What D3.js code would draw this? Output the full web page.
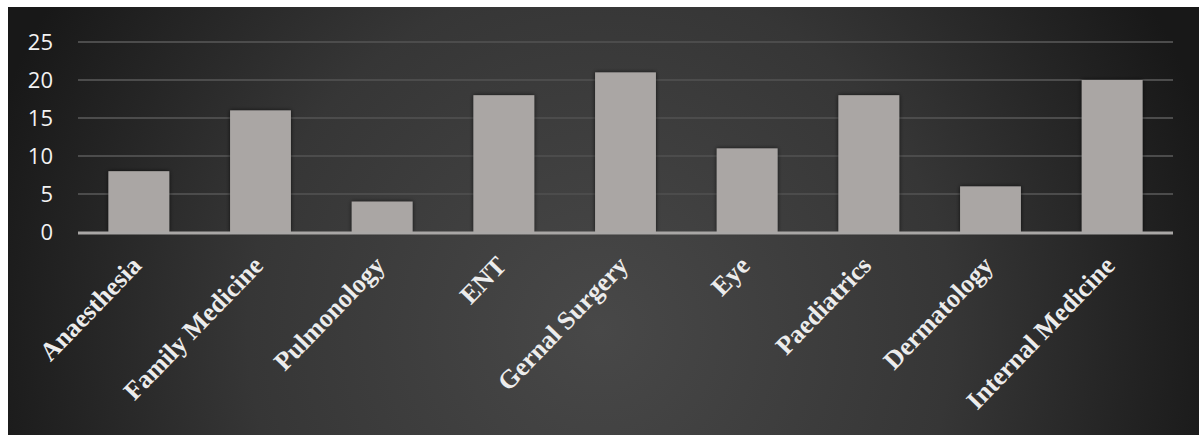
<!DOCTYPE html>
<html>
<head>
<meta charset="utf-8">
<script src="https://cdn.jsdelivr.net/npm/d3@7"></script>
<style>
  body { margin: 0; background: #fff; }
  svg { display: block; }
</style>
</head>
<body>
<svg id="chart"></svg>
<script>
const categories = ["Anaesthesia", "Family Medicine", "Pulmonology", "ENT", "Gernal Surgery",
                    "Eye", "Paediatrics", "Dermatology", "Internal Medicine"]
const counts = [8, 16, 4, 18, 21, 11, 18, 6, 20]
const yTicks = [0, 5, 10, 15, 20, 25]

const width = 1199, height = 435
const margin = {top: 42, right: 26, bottom: 203, left: 78}

const svg = d3.select("#chart").attr("width", width).attr("height", height)

const defs = svg.append("defs")
const bg = defs.append("radialGradient").attr("id", "bg")
    .attr("gradientUnits", "userSpaceOnUse")
    .attr("cx", 600).attr("cy", 330).attr("r", 640)
bg.append("stop").attr("offset", "0%").attr("stop-color", "#484848")
bg.append("stop").attr("offset", "55%").attr("stop-color", "#363636")
bg.append("stop").attr("offset", "100%").attr("stop-color", "#181818")

const shadow = defs.append("filter").attr("id", "shadow")
    .attr("x", "-20%").attr("y", "-20%").attr("width", "140%").attr("height", "140%")
shadow.append("feDropShadow").attr("dx", 0).attr("dy", 0).attr("stdDeviation", 2)
    .attr("flood-color", "#000").attr("flood-opacity", 0.7)

// dark panel
svg.append("rect").attr("x", 8).attr("y", 7).attr("width", width - 8).attr("height", height - 7)
    .attr("fill", "url(#bg)")

const x = d3.scaleBand().domain(categories)
    .range([margin.left, width - margin.right]).paddingInner(0.5).paddingOuter(0.25)
const y = d3.scaleLinear().domain([0, 25]).range([height - margin.bottom, margin.top])

// gridlines
svg.append("g").selectAll("line").data(yTicks.filter(d => d > 0)).join("line")
    .attr("x1", margin.left).attr("x2", width - margin.right)
    .attr("y1", d => y(d)).attr("y2", d => y(d))
    .attr("stroke", "#4c4c4c").attr("stroke-width", 2)

// y tick labels
svg.append("g").selectAll("text").data(yTicks).join("text")
    .attr("x", 53).attr("y", d => y(d)).attr("dy", "0.36em")
    .attr("text-anchor", "end")
    .attr("fill", "#f2f2f2")
    .style("font-family", "'Open Sans', 'Liberation Sans', sans-serif")
    .style("font-size", "22px")
    .text(d => d)

// bars
svg.append("g").selectAll("rect").data(counts).join("rect")
    .attr("x", (d, i) => x(categories[i]))
    .attr("y", d => y(d))
    .attr("width", x.bandwidth())
    .attr("height", d => y(0) - y(d))
    .attr("fill", "#aaa6a4")
    .attr("filter", "url(#shadow)")

// baseline
svg.append("line")
    .attr("x1", margin.left).attr("x2", width - margin.right)
    .attr("y1", y(0) + 1).attr("y2", y(0) + 1)
    .attr("stroke", "#a9a7a6").attr("stroke-width", 3)

// x labels
svg.append("g").selectAll("text").data(categories).join("text")
    .attr("transform", d => `translate(${x(d) + x.bandwidth() / 2 + 4}, ${y(0) + 35}) rotate(-46)`)
    .attr("text-anchor", "end")
    .attr("fill", "#ececec")
    .style("font-family", "'Liberation Serif', 'Times New Roman', serif")
    .style("font-weight", "bold")
    .style("font-size", "26px")
    .text(d => d)
</script>
</body>
</html>
